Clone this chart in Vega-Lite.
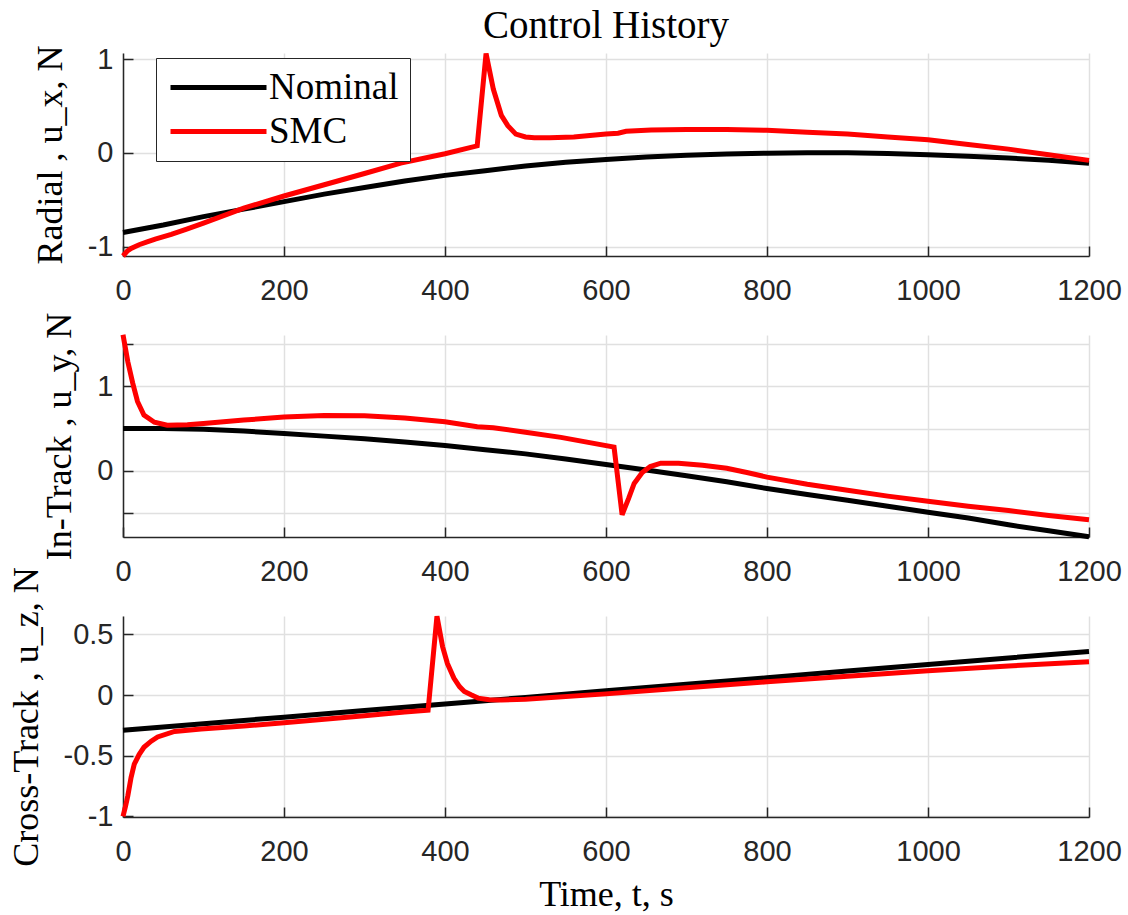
{
  "$schema": "https://vega.github.io/schema/vega-lite/v6.json",
  "background": "white",
  "padding": {"left": 8, "top": 7, "right": 5, "bottom": 5},
  "title": {
    "text": "Control History",
    "font": "Liberation Serif",
    "fontSize": 39,
    "fontWeight": "normal",
    "color": "#000000",
    "anchor": "middle",
    "frame": "group",
    "offset": -3
  },
  "spacing": 79,
  "bounds": "flush",
  "config": {
    "view": {"stroke": null},
    "axis": {
      "domainColor": "#262626",
      "domainWidth": 1.5,
      "tickColor": "#262626",
      "tickWidth": 1.5,
      "tickSize": -10,
      "grid": true,
      "gridColor": "#e0e0e0",
      "gridWidth": 1.5,
      "labelFlush": false,
      "labelFont": "Liberation Sans",
      "labelFontSize": 29,
      "labelColor": "#262626",
      "titleFont": "Liberation Serif",
      "titleFontSize": 36,
      "titleFontWeight": "normal",
      "titleColor": "#000000"
    },
    "axisX": {"labelPadding": 30, "titlePadding": 11},
    "axisY": {"labelPadding": 20, "titlePadding": 18}
  },
  "datasets": {
    "ctl": [
      {"axis": "radial", "series": "Nominal", "t": 0, "u": -0.85},
      {"axis": "radial", "series": "Nominal", "t": 50, "u": -0.77},
      {"axis": "radial", "series": "Nominal", "t": 100, "u": -0.68},
      {"axis": "radial", "series": "Nominal", "t": 150, "u": -0.6},
      {"axis": "radial", "series": "Nominal", "t": 200, "u": -0.52},
      {"axis": "radial", "series": "Nominal", "t": 250, "u": -0.44},
      {"axis": "radial", "series": "Nominal", "t": 300, "u": -0.37},
      {"axis": "radial", "series": "Nominal", "t": 350, "u": -0.3},
      {"axis": "radial", "series": "Nominal", "t": 400, "u": -0.24},
      {"axis": "radial", "series": "Nominal", "t": 450, "u": -0.19},
      {"axis": "radial", "series": "Nominal", "t": 500, "u": -0.14},
      {"axis": "radial", "series": "Nominal", "t": 550, "u": -0.1},
      {"axis": "radial", "series": "Nominal", "t": 600, "u": -0.07},
      {"axis": "radial", "series": "Nominal", "t": 650, "u": -0.045},
      {"axis": "radial", "series": "Nominal", "t": 700, "u": -0.025},
      {"axis": "radial", "series": "Nominal", "t": 750, "u": -0.012},
      {"axis": "radial", "series": "Nominal", "t": 800, "u": -0.004},
      {"axis": "radial", "series": "Nominal", "t": 850, "u": 0.0},
      {"axis": "radial", "series": "Nominal", "t": 900, "u": 0.0},
      {"axis": "radial", "series": "Nominal", "t": 950, "u": -0.008},
      {"axis": "radial", "series": "Nominal", "t": 1000, "u": -0.02},
      {"axis": "radial", "series": "Nominal", "t": 1050, "u": -0.035},
      {"axis": "radial", "series": "Nominal", "t": 1100, "u": -0.055},
      {"axis": "radial", "series": "Nominal", "t": 1150, "u": -0.08},
      {"axis": "radial", "series": "Nominal", "t": 1200, "u": -0.11},

      {"axis": "radial", "series": "SMC", "t": 0, "u": -1.1},
      {"axis": "radial", "series": "SMC", "t": 5, "u": -1.05},
      {"axis": "radial", "series": "SMC", "t": 10, "u": -1.02},
      {"axis": "radial", "series": "SMC", "t": 20, "u": -0.98},
      {"axis": "radial", "series": "SMC", "t": 30, "u": -0.95},
      {"axis": "radial", "series": "SMC", "t": 40, "u": -0.92},
      {"axis": "radial", "series": "SMC", "t": 60, "u": -0.87},
      {"axis": "radial", "series": "SMC", "t": 80, "u": -0.81},
      {"axis": "radial", "series": "SMC", "t": 100, "u": -0.75},
      {"axis": "radial", "series": "SMC", "t": 150, "u": -0.59},
      {"axis": "radial", "series": "SMC", "t": 200, "u": -0.46},
      {"axis": "radial", "series": "SMC", "t": 250, "u": -0.34},
      {"axis": "radial", "series": "SMC", "t": 300, "u": -0.22},
      {"axis": "radial", "series": "SMC", "t": 345, "u": -0.11},
      {"axis": "radial", "series": "SMC", "t": 400, "u": -0.01},
      {"axis": "radial", "series": "SMC", "t": 440, "u": 0.075},
      {"axis": "radial", "series": "SMC", "t": 451, "u": 1.06},
      {"axis": "radial", "series": "SMC", "t": 460, "u": 0.68},
      {"axis": "radial", "series": "SMC", "t": 470, "u": 0.4},
      {"axis": "radial", "series": "SMC", "t": 478, "u": 0.29},
      {"axis": "radial", "series": "SMC", "t": 488, "u": 0.2},
      {"axis": "radial", "series": "SMC", "t": 500, "u": 0.17},
      {"axis": "radial", "series": "SMC", "t": 511, "u": 0.16},
      {"axis": "radial", "series": "SMC", "t": 530, "u": 0.16},
      {"axis": "radial", "series": "SMC", "t": 560, "u": 0.17},
      {"axis": "radial", "series": "SMC", "t": 600, "u": 0.2},
      {"axis": "radial", "series": "SMC", "t": 615, "u": 0.21},
      {"axis": "radial", "series": "SMC", "t": 625, "u": 0.23},
      {"axis": "radial", "series": "SMC", "t": 656, "u": 0.245},
      {"axis": "radial", "series": "SMC", "t": 700, "u": 0.25},
      {"axis": "radial", "series": "SMC", "t": 750, "u": 0.25},
      {"axis": "radial", "series": "SMC", "t": 800, "u": 0.24},
      {"axis": "radial", "series": "SMC", "t": 850, "u": 0.22},
      {"axis": "radial", "series": "SMC", "t": 900, "u": 0.2},
      {"axis": "radial", "series": "SMC", "t": 950, "u": 0.17},
      {"axis": "radial", "series": "SMC", "t": 1000, "u": 0.14},
      {"axis": "radial", "series": "SMC", "t": 1050, "u": 0.09},
      {"axis": "radial", "series": "SMC", "t": 1100, "u": 0.04},
      {"axis": "radial", "series": "SMC", "t": 1150, "u": -0.02},
      {"axis": "radial", "series": "SMC", "t": 1200, "u": -0.08},

      {"axis": "intrack", "series": "Nominal", "t": 0, "u": 0.5},
      {"axis": "intrack", "series": "Nominal", "t": 50, "u": 0.5},
      {"axis": "intrack", "series": "Nominal", "t": 100, "u": 0.49},
      {"axis": "intrack", "series": "Nominal", "t": 150, "u": 0.47},
      {"axis": "intrack", "series": "Nominal", "t": 200, "u": 0.44},
      {"axis": "intrack", "series": "Nominal", "t": 250, "u": 0.41},
      {"axis": "intrack", "series": "Nominal", "t": 300, "u": 0.38},
      {"axis": "intrack", "series": "Nominal", "t": 350, "u": 0.34},
      {"axis": "intrack", "series": "Nominal", "t": 400, "u": 0.3},
      {"axis": "intrack", "series": "Nominal", "t": 450, "u": 0.25},
      {"axis": "intrack", "series": "Nominal", "t": 500, "u": 0.2},
      {"axis": "intrack", "series": "Nominal", "t": 550, "u": 0.14},
      {"axis": "intrack", "series": "Nominal", "t": 600, "u": 0.075},
      {"axis": "intrack", "series": "Nominal", "t": 650, "u": 0.01},
      {"axis": "intrack", "series": "Nominal", "t": 700, "u": -0.06},
      {"axis": "intrack", "series": "Nominal", "t": 750, "u": -0.13},
      {"axis": "intrack", "series": "Nominal", "t": 800, "u": -0.21},
      {"axis": "intrack", "series": "Nominal", "t": 850, "u": -0.28},
      {"axis": "intrack", "series": "Nominal", "t": 900, "u": -0.35},
      {"axis": "intrack", "series": "Nominal", "t": 950, "u": -0.42},
      {"axis": "intrack", "series": "Nominal", "t": 1000, "u": -0.49},
      {"axis": "intrack", "series": "Nominal", "t": 1050, "u": -0.56},
      {"axis": "intrack", "series": "Nominal", "t": 1100, "u": -0.64},
      {"axis": "intrack", "series": "Nominal", "t": 1150, "u": -0.71},
      {"axis": "intrack", "series": "Nominal", "t": 1200, "u": -0.78},

      {"axis": "intrack", "series": "SMC", "t": 0, "u": 1.61},
      {"axis": "intrack", "series": "SMC", "t": 6, "u": 1.29},
      {"axis": "intrack", "series": "SMC", "t": 12, "u": 1.04},
      {"axis": "intrack", "series": "SMC", "t": 18, "u": 0.82},
      {"axis": "intrack", "series": "SMC", "t": 26, "u": 0.66},
      {"axis": "intrack", "series": "SMC", "t": 39, "u": 0.575},
      {"axis": "intrack", "series": "SMC", "t": 55, "u": 0.54},
      {"axis": "intrack", "series": "SMC", "t": 80, "u": 0.545},
      {"axis": "intrack", "series": "SMC", "t": 100, "u": 0.56},
      {"axis": "intrack", "series": "SMC", "t": 150, "u": 0.6},
      {"axis": "intrack", "series": "SMC", "t": 200, "u": 0.635},
      {"axis": "intrack", "series": "SMC", "t": 250, "u": 0.655},
      {"axis": "intrack", "series": "SMC", "t": 300, "u": 0.65},
      {"axis": "intrack", "series": "SMC", "t": 350, "u": 0.625},
      {"axis": "intrack", "series": "SMC", "t": 400, "u": 0.58},
      {"axis": "intrack", "series": "SMC", "t": 440, "u": 0.52},
      {"axis": "intrack", "series": "SMC", "t": 460, "u": 0.51},
      {"axis": "intrack", "series": "SMC", "t": 500, "u": 0.455},
      {"axis": "intrack", "series": "SMC", "t": 544, "u": 0.395},
      {"axis": "intrack", "series": "SMC", "t": 610, "u": 0.28},
      {"axis": "intrack", "series": "SMC", "t": 620, "u": -0.52},
      {"axis": "intrack", "series": "SMC", "t": 628, "u": -0.33},
      {"axis": "intrack", "series": "SMC", "t": 635, "u": -0.15},
      {"axis": "intrack", "series": "SMC", "t": 645, "u": -0.02},
      {"axis": "intrack", "series": "SMC", "t": 655, "u": 0.05},
      {"axis": "intrack", "series": "SMC", "t": 668, "u": 0.09},
      {"axis": "intrack", "series": "SMC", "t": 690, "u": 0.09},
      {"axis": "intrack", "series": "SMC", "t": 720, "u": 0.065},
      {"axis": "intrack", "series": "SMC", "t": 750, "u": 0.03},
      {"axis": "intrack", "series": "SMC", "t": 775, "u": -0.02},
      {"axis": "intrack", "series": "SMC", "t": 800, "u": -0.075},
      {"axis": "intrack", "series": "SMC", "t": 850, "u": -0.16},
      {"axis": "intrack", "series": "SMC", "t": 900, "u": -0.23},
      {"axis": "intrack", "series": "SMC", "t": 950, "u": -0.3},
      {"axis": "intrack", "series": "SMC", "t": 1000, "u": -0.36},
      {"axis": "intrack", "series": "SMC", "t": 1050, "u": -0.42},
      {"axis": "intrack", "series": "SMC", "t": 1100, "u": -0.47},
      {"axis": "intrack", "series": "SMC", "t": 1150, "u": -0.53},
      {"axis": "intrack", "series": "SMC", "t": 1200, "u": -0.58},

      {"axis": "crosstrack", "series": "Nominal", "t": 0, "u": -0.29},
      {"axis": "crosstrack", "series": "Nominal", "t": 100, "u": -0.236},
      {"axis": "crosstrack", "series": "Nominal", "t": 200, "u": -0.182},
      {"axis": "crosstrack", "series": "Nominal", "t": 300, "u": -0.127},
      {"axis": "crosstrack", "series": "Nominal", "t": 400, "u": -0.073},
      {"axis": "crosstrack", "series": "Nominal", "t": 500, "u": -0.019},
      {"axis": "crosstrack", "series": "Nominal", "t": 600, "u": 0.035},
      {"axis": "crosstrack", "series": "Nominal", "t": 700, "u": 0.089},
      {"axis": "crosstrack", "series": "Nominal", "t": 800, "u": 0.143},
      {"axis": "crosstrack", "series": "Nominal", "t": 900, "u": 0.198},
      {"axis": "crosstrack", "series": "Nominal", "t": 1000, "u": 0.252},
      {"axis": "crosstrack", "series": "Nominal", "t": 1100, "u": 0.306},
      {"axis": "crosstrack", "series": "Nominal", "t": 1200, "u": 0.36},

      {"axis": "crosstrack", "series": "SMC", "t": 0, "u": -1.0},
      {"axis": "crosstrack", "series": "SMC", "t": 3, "u": -0.92},
      {"axis": "crosstrack", "series": "SMC", "t": 6, "u": -0.83},
      {"axis": "crosstrack", "series": "SMC", "t": 10, "u": -0.68},
      {"axis": "crosstrack", "series": "SMC", "t": 14, "u": -0.57},
      {"axis": "crosstrack", "series": "SMC", "t": 20, "u": -0.49},
      {"axis": "crosstrack", "series": "SMC", "t": 26, "u": -0.43},
      {"axis": "crosstrack", "series": "SMC", "t": 35, "u": -0.38},
      {"axis": "crosstrack", "series": "SMC", "t": 43, "u": -0.345},
      {"axis": "crosstrack", "series": "SMC", "t": 64, "u": -0.3},
      {"axis": "crosstrack", "series": "SMC", "t": 97, "u": -0.28},
      {"axis": "crosstrack", "series": "SMC", "t": 150, "u": -0.255},
      {"axis": "crosstrack", "series": "SMC", "t": 200, "u": -0.228},
      {"axis": "crosstrack", "series": "SMC", "t": 250, "u": -0.2},
      {"axis": "crosstrack", "series": "SMC", "t": 300, "u": -0.17},
      {"axis": "crosstrack", "series": "SMC", "t": 350, "u": -0.14},
      {"axis": "crosstrack", "series": "SMC", "t": 379, "u": -0.125},
      {"axis": "crosstrack", "series": "SMC", "t": 390, "u": 0.65},
      {"axis": "crosstrack", "series": "SMC", "t": 397, "u": 0.4},
      {"axis": "crosstrack", "series": "SMC", "t": 403, "u": 0.26},
      {"axis": "crosstrack", "series": "SMC", "t": 411, "u": 0.14},
      {"axis": "crosstrack", "series": "SMC", "t": 418, "u": 0.07},
      {"axis": "crosstrack", "series": "SMC", "t": 424, "u": 0.03},
      {"axis": "crosstrack", "series": "SMC", "t": 433, "u": 0.0},
      {"axis": "crosstrack", "series": "SMC", "t": 441, "u": -0.025},
      {"axis": "crosstrack", "series": "SMC", "t": 455, "u": -0.038},
      {"axis": "crosstrack", "series": "SMC", "t": 470, "u": -0.04},
      {"axis": "crosstrack", "series": "SMC", "t": 500, "u": -0.035},
      {"axis": "crosstrack", "series": "SMC", "t": 600, "u": 0.01},
      {"axis": "crosstrack", "series": "SMC", "t": 700, "u": 0.06},
      {"axis": "crosstrack", "series": "SMC", "t": 800, "u": 0.11},
      {"axis": "crosstrack", "series": "SMC", "t": 900, "u": 0.155},
      {"axis": "crosstrack", "series": "SMC", "t": 1000, "u": 0.2},
      {"axis": "crosstrack", "series": "SMC", "t": 1100, "u": 0.24},
      {"axis": "crosstrack", "series": "SMC", "t": 1200, "u": 0.275}
    ]
  },
  "vconcat": [
    {
      "width": 966,
      "height": 203,
      "data": {"name": "ctl"},
      "transform": [{"filter": "datum.axis == 'radial'"}],
      "mark": {"type": "line", "strokeWidth": 5},
      "encoding": {
        "x": {
          "field": "t", "type": "quantitative",
          "scale": {"domain": [0, 1200], "nice": false},
          "axis": {"values": [0, 200, 400, 600, 800, 1000, 1200], "labelExpr": "'' + datum.value", "title": null}
        },
        "y": {
          "field": "u", "type": "quantitative",
          "scale": {"domain": [-1.1, 1.065], "nice": false, "zero": false},
          "axis": {"values": [-1, 0, 1], "labelExpr": "'' + datum.value", "title": "Radial , u_x, N"}
        },
        "color": {
          "field": "series", "type": "nominal",
          "scale": {"domain": ["Nominal", "SMC"], "range": ["#000000", "#ff0000"]},
          "legend": {
            "orient": "none",
            "legendX": 33,
            "legendY": 5,
            "title": null,
            "symbolType": "M-4,0H4",
            "symbolSize": 576,
            "symbolStrokeWidth": 5,
            "symbolOffset": 33,
            "labelOffset": 32,
            "labelFont": "Liberation Serif",
            "labelFontSize": 37,
            "labelColor": "#000000",
            "labelLimit": 400,
            "strokeColor": "#262626",
            "fillColor": "#ffffff",
            "padding": 11,
            "rowPadding": 6
          }
        }
      }
    },
    {
      "width": 966,
      "height": 202,
      "data": {"name": "ctl"},
      "transform": [{"filter": "datum.axis == 'intrack'"}],
      "mark": {"type": "line", "strokeWidth": 5},
      "encoding": {
        "x": {
          "field": "t", "type": "quantitative",
          "scale": {"domain": [0, 1200], "nice": false},
          "axis": {"values": [0, 200, 400, 600, 800, 1000, 1200], "labelExpr": "'' + datum.value", "title": null}
        },
        "y": {
          "field": "u", "type": "quantitative",
          "scale": {"domain": [-0.784, 1.607], "nice": false, "zero": false},
          "axis": {"values": [-0.5, 0, 0.5, 1, 1.5], "labelExpr": "datum.value % 1 == 0 ? '' + datum.value : ''", "title": "In-Track , u_y, N"}
        },
        "color": {
          "field": "series", "type": "nominal",
          "scale": {"domain": ["Nominal", "SMC"], "range": ["#000000", "#ff0000"]},
          "legend": null
        }
      }
    },
    {
      "width": 966,
      "height": 201,
      "data": {"name": "ctl"},
      "transform": [{"filter": "datum.axis == 'crosstrack'"}],
      "mark": {"type": "line", "strokeWidth": 5},
      "encoding": {
        "x": {
          "field": "t", "type": "quantitative",
          "scale": {"domain": [0, 1200], "nice": false},
          "axis": {"values": [0, 200, 400, 600, 800, 1000, 1200], "labelExpr": "'' + datum.value", "title": "Time, t, s"}
        },
        "y": {
          "field": "u", "type": "quantitative",
          "scale": {"domain": [-1.005, 0.652], "nice": false, "zero": false},
          "axis": {"values": [-1, -0.5, 0, 0.5], "labelExpr": "'' + datum.value", "title": "Cross-Track , u_z, N"}
        },
        "color": {
          "field": "series", "type": "nominal",
          "scale": {"domain": ["Nominal", "SMC"], "range": ["#000000", "#ff0000"]},
          "legend": null
        }
      }
    }
  ]
}
